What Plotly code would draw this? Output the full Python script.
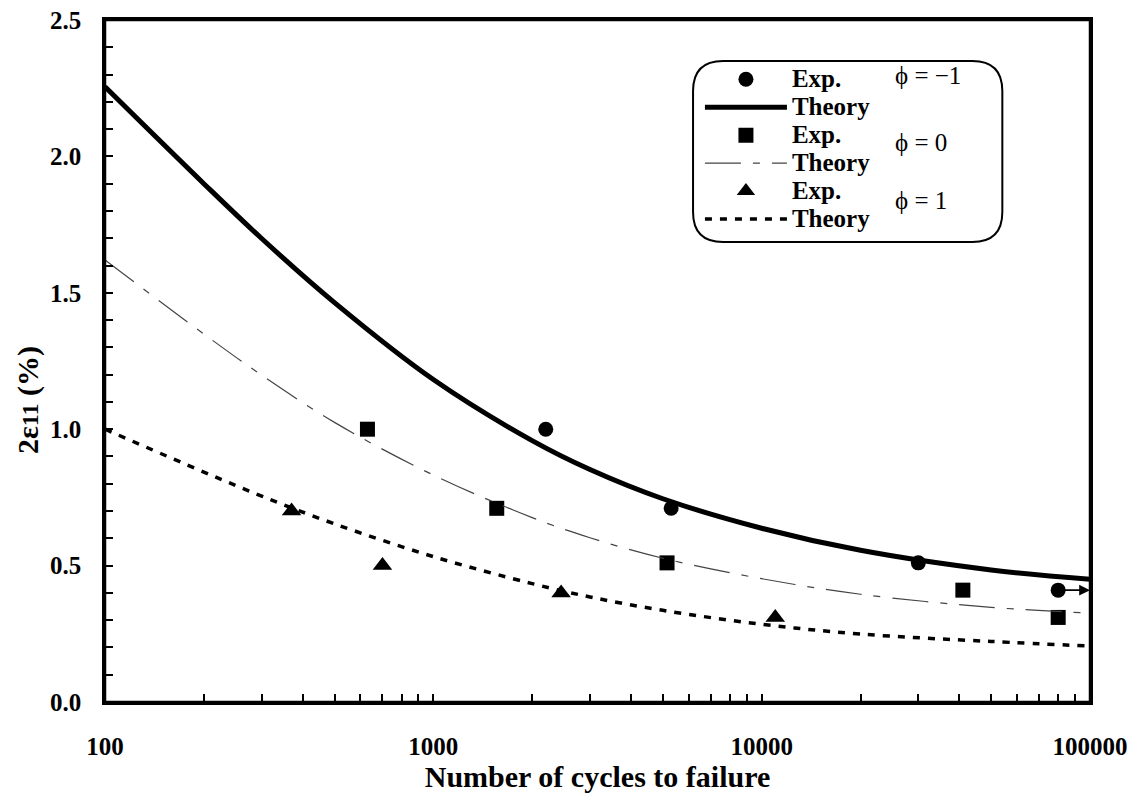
import math
import plotly.graph_objects as go

# ---- data ----
exp_m1_n = [2200, 5300, 30000, 80000]
exp_m1_e = [1.00, 0.71, 0.51, 0.41]
exp_0_n = [630, 1560, 5150, 41000, 80000]
exp_0_e = [1.00, 0.71, 0.51, 0.41, 0.31]
exp_p1_n = [370, 700, 2450, 11000]
exp_p1_e = [0.70, 0.50, 0.40, 0.31]

theory_n = [100, 200, 300, 500, 1000, 2000, 3000, 5000, 10000, 20000, 50000, 100000]
theory_m1 = [2.255, 1.900, 1.699, 1.464, 1.182, 0.958, 0.852, 0.745, 0.637, 0.556, 0.484, 0.450]
theory_0 = [1.620, 1.349, 1.198, 1.025, 0.832, 0.676, 0.602, 0.527, 0.452, 0.395, 0.347, 0.326]
theory_p1 = [1.000, 0.843, 0.755, 0.653, 0.533, 0.434, 0.385, 0.336, 0.285, 0.249, 0.222, 0.205]

x_tick_vals = [100, 1000, 10000, 100000]
x_tick_text = ["100", "1000", "10000", "100000"]
phi_labels = ["ϕ = −1", "ϕ = 0", "ϕ = 1"]

SERIF = "Liberation Serif"


def leg(txt):
    return f"<span style='font-size:25px'>{txt}</span>"


fig = go.Figure()

fig.add_trace(go.Scatter(x=exp_m1_n, y=exp_m1_e, mode="markers", name=leg("Exp."),
                         marker=dict(symbol="circle", size=15, color="black")))
fig.add_trace(go.Scatter(x=theory_n, y=theory_m1, mode="lines", name=leg("Theory"),
                         line=dict(color="black", width=5, shape="spline")))
fig.add_trace(go.Scatter(x=exp_0_n, y=exp_0_e, mode="markers", name=leg("Exp."),
                         marker=dict(symbol="square", size=15, color="black")))
fig.add_trace(go.Scatter(x=theory_n, y=theory_0, mode="lines", name=leg("Theory"),
                         line=dict(color="#444444", width=1.2, shape="spline",
                                   dash="36px,12px,7px,12px")))
fig.add_trace(go.Scatter(x=exp_p1_n, y=exp_p1_e, mode="markers", name=leg("Exp."),
                         marker=dict(symbol="triangle-up", size=17, color="black")))
fig.add_trace(go.Scatter(x=theory_n, y=theory_p1, mode="lines", name=leg("Theory"),
                         line=dict(color="black", width=3.5, shape="spline",
                                   dash="7px,8px")))

# run-out arrow on the last phi=-1 point
fig.add_annotation(x=math.log10(100000), y=exp_m1_e[-1], ax=math.log10(exp_m1_n[-1]),
                   ay=exp_m1_e[-1], xref="x", yref="y", axref="x", ayref="y",
                   text="", showarrow=True, arrowhead=2, arrowsize=1.2, arrowwidth=1.8,
                   arrowcolor="black")

# phi labels inside legend box
for lab, yp in zip(phi_labels, [0.919, 0.821, 0.736]):
    fig.add_annotation(x=0.800, y=yp, xref="paper", yref="paper", text=lab,
                       showarrow=False, xanchor="left", yanchor="middle",
                       font=dict(family=SERIF, size=25, color="black"))

# y-axis title (placed like the reference, slightly below the axis centre)
fig.add_annotation(x=-0.078, y=0.443, xref="paper", yref="paper",
                   text="2ε<span style='font-size:24px'>11</span> (%)",
                   textangle=-90, showarrow=False, xanchor="center", yanchor="middle",
                   font=dict(family=SERIF, size=30, color="black", weight="bold"))

# rounded legend frame
x0, x1, y0, y1 = 0.597, 0.911, 0.6745, 0.940
rx, ry = 0.0305, 0.044
path = (f"M {x0+rx},{y1} L {x1-rx},{y1} Q {x1},{y1} {x1},{y1-ry} "
        f"L {x1},{y0+ry} Q {x1},{y0} {x1-rx},{y0} L {x0+rx},{y0} "
        f"Q {x0},{y0} {x0},{y0+ry} L {x0},{y1-ry} Q {x0},{y1} {x0+rx},{y1} Z")
fig.add_shape(type="path", path=path, xref="paper", yref="paper",
              line=dict(color="black", width=2))

# plot frame
fig.add_shape(type="rect", x0=0, x1=1, y0=0, y1=1, xref="paper", yref="paper",
              line=dict(color="black", width=2.5), layer="above")

axis_font = dict(family=SERIF, size=25, color="black", weight="bold")

fig.update_layout(
    width=1122, height=785,
    margin=dict(l=97, r=40, t=12, b=91, autoexpand=False),
    paper_bgcolor="white", plot_bgcolor="white",
    showlegend=True,
    legend=dict(x=0.604, y=0.941, xanchor="left", yanchor="top",
                bgcolor="rgba(0,0,0,0)", borderwidth=0, tracegroupgap=0,
                itemwidth=82,
                font=dict(family=SERIF, size=19.2, color="black", weight="bold")),
    xaxis=dict(type="log", range=[2, 5], tickvals=x_tick_vals, ticktext=x_tick_text,
               automargin=False, ticklabeloverflow="allow",
               ticks="inside", ticklen=8, tickwidth=2, tickcolor="black",
               showline=True, linewidth=2.5, linecolor="black", mirror=True,
               showgrid=False, zeroline=False, tickfont=axis_font,
               ticklabelstandoff=20,
               minor=dict(ticks="inside", ticklen=8, tickwidth=2, tickcolor="black",
                          tickvals=[k * 10 ** d for d in range(2, 5) for k in range(2, 10)],
                          showgrid=False),
               title=dict(text="Number of cycles to failure", standoff=12,
                          font=dict(family=SERIF, size=30, color="black", weight="bold"))),
    yaxis=dict(range=[0, 2.5], dtick=0.5, tickformat=".1f",
               automargin=False, ticklabeloverflow="allow",
               ticks="inside", ticklen=8, tickwidth=2, tickcolor="black",
               showline=True, linewidth=2.5, linecolor="black", mirror=True,
               showgrid=False, zeroline=False, tickfont=axis_font,
               ticklabelstandoff=16,
               minor=dict(ticks="inside", ticklen=8, tickwidth=2, tickcolor="black",
                          dtick=0.1, showgrid=False)),
)

fig.write_html("out.html")
